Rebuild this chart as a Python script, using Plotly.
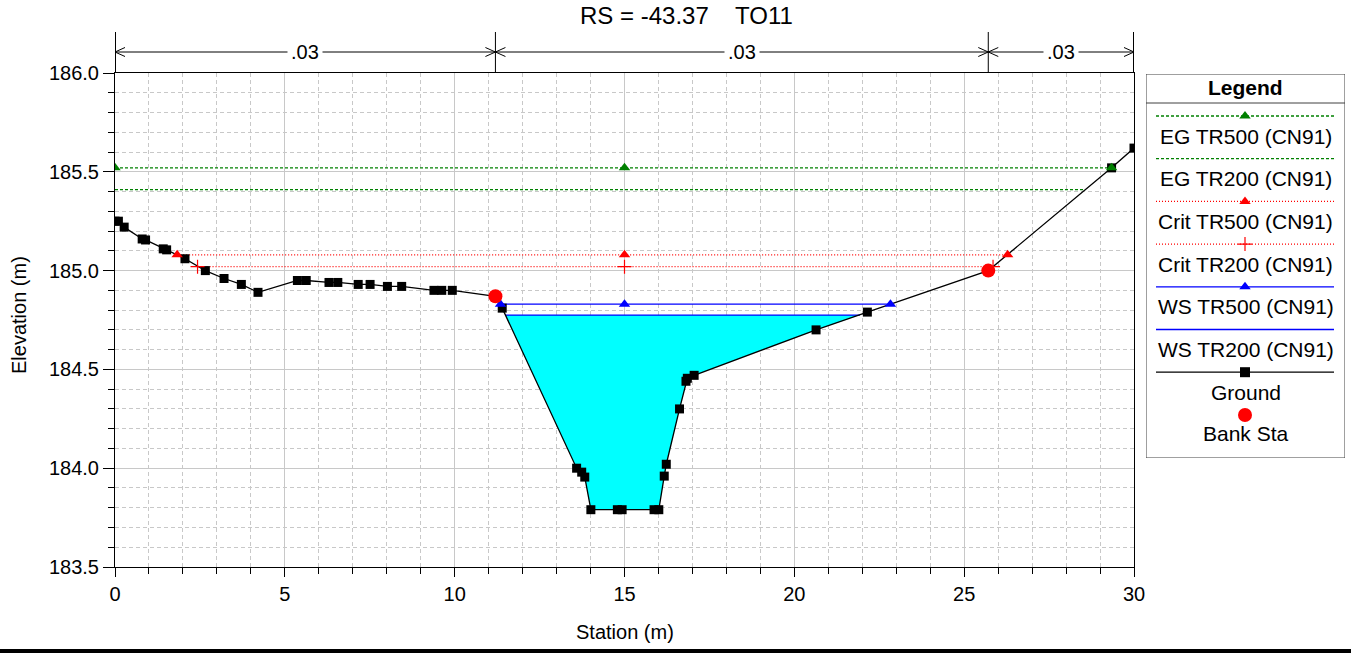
import numpy as np
import plotly.graph_objects as go

# ---------------- data ----------------
title_text = "RS = -43.37    TO11"

ground_x = [0.0, 0.1, 0.27, 0.8, 0.9, 1.42, 1.52, 2.06, 2.66, 3.21, 3.72, 4.21,
            5.37, 5.63, 6.3, 6.56, 7.16, 7.51, 8.02, 8.44, 9.39, 9.62, 9.93,
            11.2, 11.4, 13.59, 13.74, 13.83, 14.01, 14.79, 14.93, 15.87, 16.01,
            16.17, 16.23, 16.62, 16.81, 16.85, 17.05, 20.64, 22.15, 25.71, 29.34, 30.0]
ground_y = [185.25, 185.25, 185.22, 185.16, 185.155, 185.11, 185.105, 185.06, 185.0, 184.96, 184.93, 184.89,
            184.95, 184.95, 184.94, 184.94, 184.93, 184.93, 184.92, 184.92, 184.90, 184.90, 184.90,
            184.87, 184.81, 184.0, 183.98, 183.955, 183.79, 183.79, 183.79, 183.79, 183.79,
            183.96, 184.02, 184.30, 184.44, 184.455, 184.47, 184.70, 184.79, 185.0, 185.52, 185.62]

bank_x = [11.2, 25.71]
bank_y = [184.87, 185.0]

eg500_x = [0.0, 15.0, 29.34]
eg500_z = 185.52
eg200_x = [0.0, 28.57]
eg200_z = 185.41
crit500_x = [1.83, 15.0, 26.28]
crit500_z = 185.08
crit200_x = [2.43, 15.0, 25.85]
crit200_z = 185.02
ws500_x = [11.35, 15.0, 22.83]
ws500_z = 184.83
ws200_x = [11.49, 21.93]
ws200_z = 184.775

n_values = [0.03, 0.03, 0.03]
n_breaks = [0.0, 11.2, 25.71, 30.0]

x_range = [0, 30]
y_range = [183.5, 186.0]

legend_names = ["EG TR500 (CN91)", "EG TR200 (CN91)", "Crit TR500 (CN91)", "Crit TR200 (CN91)",
                "WS TR500 (CN91)", "WS TR200 (CN91)", "Ground"]

# ---------------- styling ----------------
W, H = 1351, 653
PL, PR, PT, PB = 115, 1134, 73, 567       # plot area in window pixels
FONT = "Liberation Sans, Arial, sans-serif"
GREEN, RED, BLUE, CYAN = "#008000", "#ff0000", "#0000ff", "#00ffff"
GRID_MAJ, GRID_MIN = "#c8c8c8", "#c8c8c8"


def py(p):  # pixel y -> paper y
    return (H - p) / H


def px(p):  # pixel x -> paper x
    return p / W


fig = go.Figure()

# water fill of WS TR200 (surface + ground below it)
gx = np.asarray(ground_x)
gy = np.asarray(ground_y)
inner = (gx > ws200_x[0]) & (gx < ws200_x[-1])
fill_x = [ws200_x[0]] + list(gx[inner]) + [ws200_x[-1], ws200_x[0]]
fill_y = [ws200_z] + list(gy[inner]) + [ws200_z, ws200_z]
fig.add_trace(go.Scatter(x=fill_x, y=fill_y, mode="lines", fill="toself",
                         fillcolor=CYAN, line=dict(width=0), hoverinfo="skip"))

profiles = [
    (eg500_x, eg500_z, GREEN, "3px,2px", "triangle-up"),
    (eg200_x, eg200_z, GREEN, "3px,2px", None),
    (crit500_x, crit500_z, RED, "1px,2px", "triangle-up"),
    (crit200_x, crit200_z, RED, "1px,2px", "cross-thin"),
    (ws500_x, ws500_z, BLUE, "solid", "triangle-up"),
    (ws200_x, ws200_z, BLUE, "solid", None),
]

# profile lines
for xs, z, col, dash, sym in profiles:
    fig.add_trace(go.Scatter(x=xs, y=[z] * len(xs), mode="lines",
                             line=dict(color=col, width=1.2, dash=dash)))

# ground
fig.add_trace(go.Scatter(x=ground_x, y=ground_y, mode="lines+markers",
                         line=dict(color="black", width=1.3),
                         marker=dict(symbol="square", size=9, color="black")))

# profile markers
for xs, z, col, dash, sym in profiles:
    if sym is None:
        continue
    mk = dict(symbol=sym, size=10, color=col)
    if sym == "cross-thin":
        mk = dict(symbol=sym, size=10, color=col, line=dict(color=col, width=1.2))
    fig.add_trace(go.Scatter(x=xs, y=[z] * len(xs), mode="markers", marker=mk))

# bank stations
fig.add_trace(go.Scatter(x=bank_x, y=bank_y, mode="markers",
                         marker=dict(symbol="circle", size=14, color=RED)))

shapes = []
annotations = []

# Manning's n indicators above the plot
y_arrow = py(52)
for i, b in enumerate(n_breaks):
    w = 2 if i in (0, len(n_breaks) - 1) else 1
    shapes.append(dict(type="line", xref="x", yref="paper", x0=b, x1=b,
                       y0=py(PT), y1=py(32), line=dict(color="black", width=w)))
for i, v in enumerate(n_values):
    a, b = n_breaks[i], n_breaks[i + 1]
    shapes.append(dict(type="line", xref="x", yref="paper", x0=a, x1=b,
                       y0=y_arrow, y1=y_arrow, line=dict(color="black", width=1)))
    shapes.append(dict(type="path", xref="x", yref="paper", xsizemode="pixel", ysizemode="pixel",
                       xanchor=a, yanchor=y_arrow, path="M 10,4.5 L 0,0 L 10,-4.5",
                       line=dict(color="black", width=1)))
    shapes.append(dict(type="path", xref="x", yref="paper", xsizemode="pixel", ysizemode="pixel",
                       xanchor=b, yanchor=y_arrow, path="M -10,4.5 L 0,0 L -10,-4.5",
                       line=dict(color="black", width=1)))
    label = f"{v:.2f}".lstrip("0")
    annotations.append(dict(x=(a + b) / 2, y=y_arrow, xref="x", yref="paper",
                            text=label, showarrow=False, bgcolor="white", borderpad=3,
                            font=dict(size=20, color="black", family=FONT),
                            xanchor="center", yanchor="middle"))

# title and axis titles
annotations.append(dict(x=px(686), y=1.0, xref="paper", yref="paper", text=title_text,
                        showarrow=False, font=dict(size=24, family=FONT, color="black"),
                        xanchor="center", yanchor="top"))
annotations.append(dict(x=px((PL + PR) / 2), y=py(632), xref="paper", yref="paper",
                        text="Station (m)", showarrow=False,
                        font=dict(size=20, family=FONT, color="black"),
                        xanchor="center", yanchor="middle"))
annotations.append(dict(x=px(19), y=py((PT + PB) / 2 - 5), xref="paper", yref="paper",
                        text="Elevation (m)", showarrow=False, textangle=-90,
                        font=dict(size=20, family=FONT, color="black"),
                        xanchor="center", yanchor="middle"))

# bottom frame bar
shapes.append(dict(type="rect", xref="paper", yref="paper", x0=0, x1=1, y0=0, y1=4 / H,
                   fillcolor="black", line=dict(width=0)))

# ---------------- custom legend (own pixel-scaled axes) ----------------
LX0, LX1, LY0, LY1 = 1146, 1345, 74, 458
shapes.append(dict(type="rect", xref="x2", yref="y2", x0=LX0, x1=LX1, y0=LY0, y1=LY1,
                   line=dict(color="#404040", width=1), fillcolor="white", layer="below"))
shapes.append(dict(type="line", xref="x2", yref="y2", x0=LX0, x1=LX1, y0=103, y1=103,
                   line=dict(color="#404040", width=1)))
annotations.append(dict(x=(LX0 + LX1) / 2, y=87, xref="x2", yref="y2", text="<b>Legend</b>",
                        showarrow=False, font=dict(size=21, family=FONT, color="black"),
                        xanchor="center", yanchor="middle"))

leg_styles = [(p[2], p[3], p[4]) for p in profiles] + [("black", "solid", "square")]
sx0, sx1, smid = 1156, 1334, 1245
for i, (name, (col, dash, sym)) in enumerate(zip(legend_names, leg_styles)):
    ys = 116 + i * 42.7
    fig.add_trace(go.Scatter(x=[sx0, sx1], y=[ys, ys], mode="lines", xaxis="x2", yaxis="y2",
                             line=dict(color=col, width=1.3, dash=dash)))
    if sym is not None:
        mk = dict(symbol=sym, size=10, color=col)
        if sym == "cross-thin":
            mk["line"] = dict(color=col, width=1.2)
        fig.add_trace(go.Scatter(x=[smid], y=[ys], mode="markers", xaxis="x2", yaxis="y2", marker=mk))
    annotations.append(dict(x=(LX0 + LX1) / 2, y=ys + 20, xref="x2", yref="y2", text=name,
                            showarrow=False, font=dict(size=21, family=FONT, color="black"),
                            xanchor="center", yanchor="middle"))
# Bank Sta
fig.add_trace(go.Scatter(x=[smid], y=[415], mode="markers", xaxis="x2", yaxis="y2",
                         marker=dict(symbol="circle", size=14, color=RED)))
annotations.append(dict(x=(LX0 + LX1) / 2, y=433, xref="x2", yref="y2", text="Bank Sta",
                        showarrow=False, font=dict(size=21, family=FONT, color="black"),
                        xanchor="center", yanchor="middle"))

fig.update_layout(
    width=W, height=H,
    margin=dict(l=0, r=0, t=0, b=0, autoexpand=False),
    paper_bgcolor="white", plot_bgcolor="white",
    showlegend=False,
    font=dict(family=FONT, size=20, color="black"),
    shapes=shapes, annotations=annotations,
    xaxis=dict(domain=[px(PL), px(PR)], range=x_range, dtick=5, tick0=0,
               showline=True, linecolor="black", linewidth=1, mirror=True,
               ticks="outside", ticklen=9, tickcolor="black",
               showgrid=True, gridcolor=GRID_MAJ, gridwidth=1, zeroline=False,
               tickfont=dict(size=20, family=FONT, color="black"),
               minor=dict(dtick=1, ticks="outside", ticklen=6, tickcolor="black",
                          showgrid=True, gridcolor=GRID_MIN, griddash="4px,3px", gridwidth=1),
               automargin=False, fixedrange=True),
    yaxis=dict(domain=[py(PB), py(PT)], range=y_range, dtick=0.5, tick0=183.5, tickformat=".1f",
               showline=True, linecolor="black", linewidth=1, mirror=True,
               ticks="outside", ticklen=11, tickcolor="black",
               showgrid=True, gridcolor=GRID_MAJ, gridwidth=1, zeroline=False,
               tickfont=dict(size=20, family=FONT, color="black"),
               minor=dict(dtick=0.1, ticks="outside", ticklen=6, tickcolor="black",
                          showgrid=True, gridcolor=GRID_MIN, griddash="4px,3px", gridwidth=1),
               automargin=False, fixedrange=True),
    xaxis2=dict(domain=[px(LX0), px(LX1)], range=[LX0, LX1], visible=False, fixedrange=True,
                anchor="y2"),
    yaxis2=dict(domain=[py(LY1), py(LY0)], range=[LY1, LY0], visible=False, fixedrange=True,
                anchor="x2"),
)

fig.write_html("out.html",
               config={"displayModeBar": False},
               post_script="document.body.style.margin='0px';document.body.style.overflow='hidden';")
